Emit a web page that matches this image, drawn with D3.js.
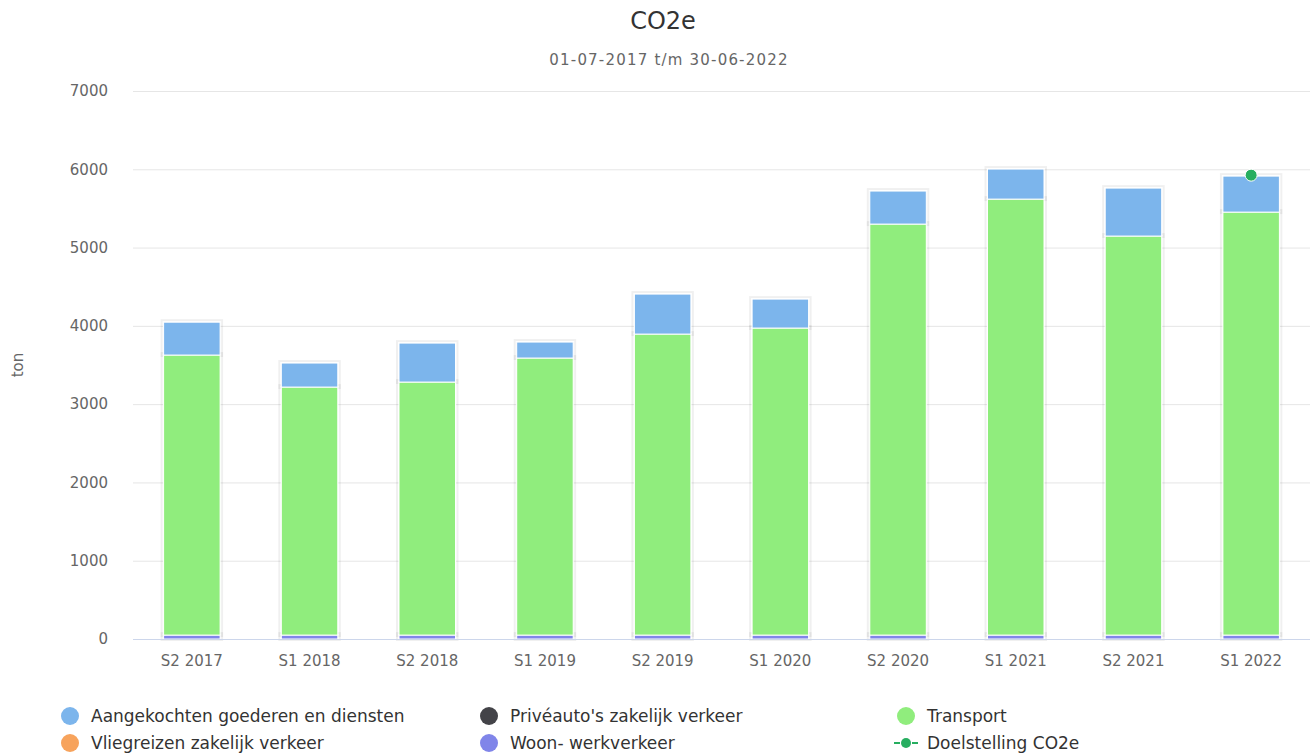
<!DOCTYPE html>
<html><head><meta charset="utf-8">
<script src="https://cdn.jsdelivr.net/npm/d3@7/dist/d3.min.js"></script>
<style>body{margin:0;background:#fff;}svg{display:block;font-family:"DejaVu Sans",sans-serif;}</style>
</head><body><svg id="c" width="1310" height="755"></svg>
<script>
const categories = ["S2 2017","S1 2018","S2 2018","S1 2019","S2 2019","S1 2020","S2 2020","S1 2021","S2 2021","S1 2022"];
const woonWerk = [50,50,50,50,50,50,50,50,50,50];
const vliegreizen = [0,0,0,0,0,0,0,0,0,0];
const priveauto = [0,0,0,0,0,0,0,0,0,0];
const transport = [3577,3168,3232,3539,3845,3922,5250,5569,5097,5403];
const aangekocht = [420,307,498,204,511,370,422,384,613,460];
const doelstelling = [null,null,null,null,null,null,null,null,null,5925];
const yTicks = [0,1000,2000,3000,4000,5000,6000,7000];

const seriesStack = [
  {name:"Woon- werkverkeer", values:woonWerk, color:"#8085e9"},
  {name:"Vliegreizen zakelijk verkeer", values:vliegreizen, color:"#f7a35c"},
  {name:"Privéauto's zakelijk verkeer", values:priveauto, color:"#434348"},
  {name:"Transport", values:transport, color:"#90ed7d"},
  {name:"Aangekochten goederen en diensten", values:aangekocht, color:"#7cb5ec"}
];
const svg = d3.select("#c");
const m = {l:133, r:1310, t:91, b:639};
const x = d3.scaleBand().domain(categories).range([m.l, m.r]).paddingInner(0.52).paddingOuter(0.26);
const y = d3.scaleLinear().domain([0,7000]).range([m.b, m.t]);

svg.append("text").attr("x",663).attr("y",29).attr("text-anchor","middle").attr("font-size",24).attr("fill","#333").text("CO2e");
svg.append("text").attr("x",669).attr("y",65).attr("text-anchor","middle").attr("font-size",15).attr("letter-spacing","1.2px").attr("fill","#666").text("01-07-2017 t/m 30-06-2022");
svg.append("text").attr("transform","translate(23,365) rotate(-90)").attr("text-anchor","middle").attr("font-size",15).attr("fill","#666").text("ton");

// grid
svg.append("g").selectAll("line").data(yTicks.slice(1)).join("line")
  .attr("x1",m.l).attr("x2",m.r).attr("y1",d=>y(d)+0.5).attr("y2",d=>y(d)+0.5).attr("stroke","#e6e6e6");
const yAxis = d3.axisLeft(y).tickValues(yTicks).tickFormat(d3.format("d")).tickSize(0).tickPadding(0);
const gy = svg.append("g").attr("transform",`translate(108,0)`).call(yAxis);
gy.select(".domain").remove();
gy.selectAll("text").attr("font-size",15).attr("fill","#666").attr("font-family","DejaVu Sans");

// stack
const stacked = d3.stack().keys(d3.range(seriesStack.length)).value((d,k)=>seriesStack[k].values[d])(d3.range(categories.length));
const bars = svg.append("g");
stacked.forEach((layer,k)=>{
  const g = bars.append("g");
  layer.forEach((seg,i)=>{
    if (seg[1]-seg[0] <= 0) return;
    const bx = x(categories[i]), bw = x.bandwidth();
    const y0 = y(seg[0]), y1 = y(seg[1]);
    g.append("rect").attr("x",bx-2).attr("y",y1-2).attr("width",bw+4).attr("height",y0-y1+3)
      .attr("fill","none").attr("stroke","rgba(0,0,0,0.06)").attr("stroke-width",2);
  });
});
stacked.forEach((layer,k)=>{
  const g = bars.append("g");
  layer.forEach((seg,i)=>{
    if (seg[1]-seg[0] <= 0) return;
    const bx = x(categories[i]), bw = x.bandwidth();
    const y0 = y(seg[0]), y1 = y(seg[1]);
    g.append("rect").attr("x",bx).attr("y",y1).attr("width",bw).attr("height",y0-y1)
      .attr("fill",seriesStack[k].color).attr("stroke","#fff").attr("stroke-width",1);
  });
});

// x axis
svg.append("line").attr("x1",m.l).attr("x2",m.r).attr("y1",m.b+0.5).attr("y2",m.b+0.5).attr("stroke","#ccd6eb");
const xAxis = d3.axisBottom(x).tickSize(0).tickPadding(0);
const gx = svg.append("g").attr("transform",`translate(0,${m.b+16})`).call(xAxis);
gx.select(".domain").remove();
gx.selectAll("text").attr("font-size",15).attr("fill","#666").attr("font-family","DejaVu Sans").attr("dy","0.71em");

// doelstelling
const dcol = "#27ae60";
const line = d3.line().defined(d=>d!=null).x((d,i)=>x(categories[i])+x.bandwidth()/2).y(d=>y(d));
svg.append("path").datum(doelstelling).attr("d",line).attr("fill","none").attr("stroke",dcol).attr("stroke-width",2).attr("stroke-dasharray","6,3");
svg.append("g").selectAll("circle").data(doelstelling.map((d,i)=>({d,i})).filter(o=>o.d!=null)).join("circle")
  .attr("cx",o=>x(categories[o.i])+x.bandwidth()/2).attr("cy",o=>y(o.d)).attr("r",6)
  .attr("fill",dcol).attr("stroke","#fff").attr("stroke-width",1);

// legend
const legendItems = [
  {name:"Aangekochten goederen en diensten", color:"#7cb5ec", col:0,row:0},
  {name:"Privéauto's zakelijk verkeer", color:"#434348", col:1,row:0},
  {name:"Transport", color:"#90ed7d", col:2,row:0},
  {name:"Vliegreizen zakelijk verkeer", color:"#f7a35c", col:0,row:1},
  {name:"Woon- werkverkeer", color:"#8085e9", col:1,row:1},
  {name:"Doelstelling CO2e", color:dcol, col:2,row:1, line:true}
];
const colX = [70,489,906], rowY = [716,743];
const lg = svg.append("g");
legendItems.forEach(it=>{
  const cx = colX[it.col], cy = rowY[it.row];
  if (it.line) {
    lg.append("line").attr("x1",cx-12).attr("x2",cx+12).attr("y1",cy).attr("y2",cy).attr("stroke",it.color).attr("stroke-width",2).attr("stroke-dasharray","6,3");
    lg.append("circle").attr("cx",cx).attr("cy",cy).attr("r",5).attr("fill",it.color);
  } else {
    lg.append("circle").attr("cx",cx).attr("cy",cy).attr("r",9).attr("fill",it.color);
  }
  lg.append("text").attr("x",cx+21).attr("y",cy).attr("dy","0.35em").attr("font-size",17).attr("fill","#333").text(it.name);
});
</script></body></html>
